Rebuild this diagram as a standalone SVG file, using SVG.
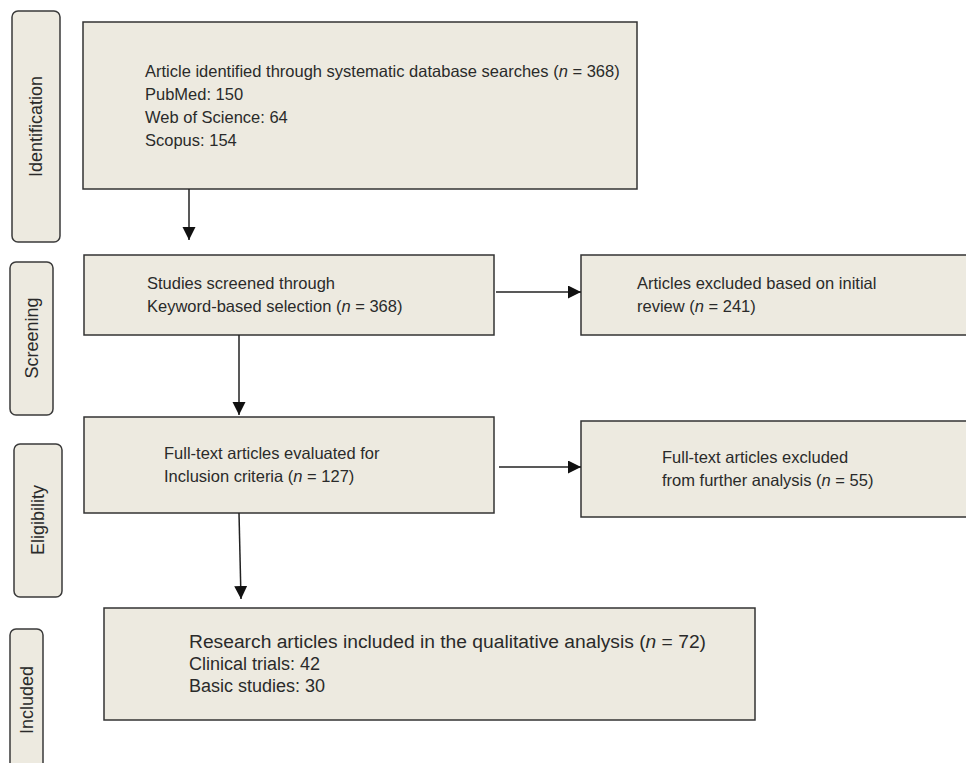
<svg xmlns="http://www.w3.org/2000/svg" width="966" height="763" viewBox="0 0 966 763">
<style>
.box{fill:#edeae0;stroke:#333;stroke-width:1.5}
.side{fill:#edeae0;stroke:#3a3a3a;stroke-width:1.5}
.t{font-family:"Liberation Sans",Arial,sans-serif;font-size:16.5px;fill:#2a2a2a}
.ti{font-family:"Liberation Sans",Arial,sans-serif;font-size:18px;fill:#2a2a2a}
.lbl{font-family:"Liberation Sans",Arial,sans-serif;font-size:18px;fill:#2a2a2a;text-anchor:middle}
.c{stroke:#222;stroke-width:1.5;fill:none;marker-end:url(#ah)}
</style>
<defs>
<marker id="ah" markerUnits="userSpaceOnUse" markerWidth="14" markerHeight="14" refX="13" refY="6.5" orient="auto">
<path d="M0,0 L13,6.5 L0,13 z" fill="#111"/>
</marker>
</defs>
<rect width="966" height="763" fill="#fff"/>
<g id="lbl-identification"><rect class="side" x="12" y="11" width="48" height="231" rx="6"/><text class="lbl" transform="translate(42,126.5) rotate(-90)">Identification</text></g>
<g id="lbl-screening"><rect class="side" x="10" y="262" width="43" height="153" rx="6"/><text class="lbl" transform="translate(37.5,338) rotate(-90)">Screening</text></g>
<g id="lbl-eligibility"><rect class="side" x="14" y="444" width="48" height="153" rx="6"/><text class="lbl" transform="translate(44,520) rotate(-90)">Eligibility</text></g>
<g id="lbl-included"><rect class="side" x="10" y="629" width="33" height="160" rx="6"/><text class="lbl" transform="translate(33,700) rotate(-90)">Included</text></g>
<g id="identified"><rect class="box" x="83" y="22" width="554" height="167"/>
<text class="t" x="145" y="77">Article identified through systematic database searches (<tspan font-style="italic">n</tspan> = 368)</text>
<text class="t" x="145" y="100">PubMed: 150</text>
<text class="t" x="145" y="123">Web of Science: 64</text>
<text class="t" x="145" y="146">Scopus: 154</text></g>
<g id="screened"><rect class="box" x="84" y="255" width="410" height="80"/>
<text class="t" x="147" y="289">Studies screened through</text>
<text class="t" x="147" y="312">Keyword-based selection (<tspan font-style="italic">n</tspan> = 368)</text></g>
<g id="excluded1"><rect class="box" x="581" y="255" width="400" height="80"/>
<text class="t" x="637" y="289">Articles excluded based on initial</text>
<text class="t" x="637" y="312">review (<tspan font-style="italic">n</tspan> = 241)</text></g>
<g id="eligible"><rect class="box" x="84" y="417" width="410" height="96"/>
<text class="t" x="164" y="459">Full-text articles evaluated for</text>
<text class="t" x="164" y="482">Inclusion criteria (<tspan font-style="italic">n</tspan> = 127)</text></g>
<g id="excluded2"><rect class="box" x="581" y="421" width="400" height="96"/>
<text class="t" x="662" y="463">Full-text articles excluded</text>
<text class="t" x="662" y="486">from further analysis (<tspan font-style="italic">n</tspan> = 55)</text></g>
<g id="included"><rect class="box" x="104" y="608" width="651" height="112"/>
<text class="ti" x="189" y="648" textLength="517" lengthAdjust="spacingAndGlyphs">Research articles included in the qualitative analysis (<tspan font-style="italic">n</tspan> = 72)</text>
<text class="ti" x="189" y="670">Clinical trials:  42</text>
<text class="ti" x="189" y="692">Basic studies:  30</text></g>
<g id="connectors">
<path class="c" d="M189,189 V240"/>
<path class="c" d="M496,292 H581"/>
<path class="c" d="M239,335 V415"/>
<path class="c" d="M499,467 H581"/>
<path class="c" d="M239,513 L241,599"/>
</g>
</svg>
